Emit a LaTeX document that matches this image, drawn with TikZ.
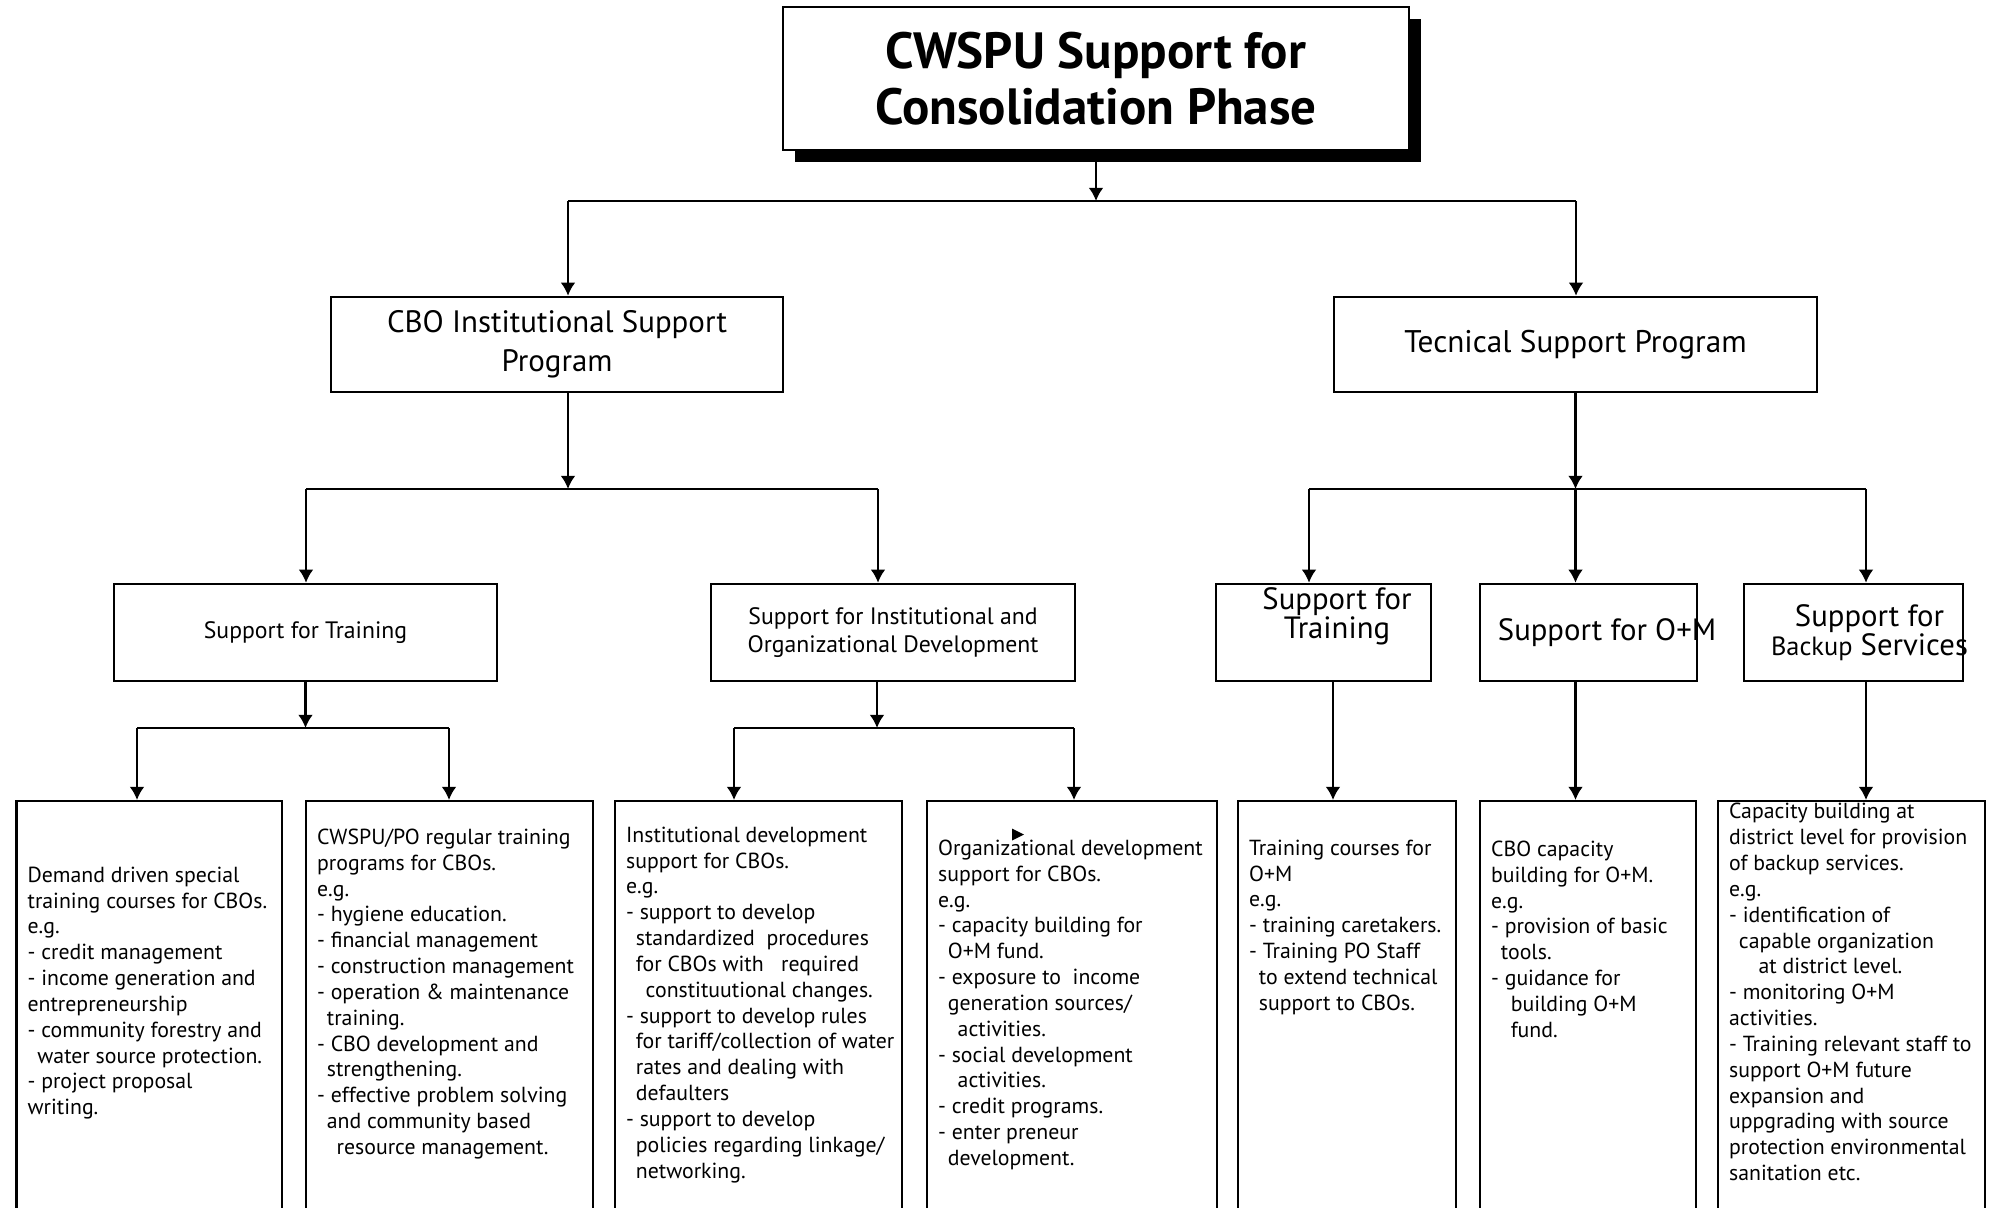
\documentclass[tikz,border=0pt]{standalone}
\usepackage{fontspec}
\setmainfont{PT Sans}
\usetikzlibrary{arrows.meta}
\usetikzlibrary{shadows}

\tikzset{
  box/.style={draw, line width=1.4pt, inner sep=0pt},
  midbox/.style={box, minimum height=1.94cm, align=center},
  leafbox/.style={box, anchor=north, minimum height=8.4cm},
  leaftext/.style={anchor=north west, inner sep=0pt, align=left, font=\fontsize{12.4}{14.7}\selectfont},
  link/.style={line width=1.4pt},
  >={Latex[length=7.5pt,width=8.5pt]}
}
\newcommand{\ind}{\hspace*{0.45em}}

\begin{document}
\begin{tikzpicture}
\useasboundingbox (0,0) rectangle (39.8,-24.16);

\node[box, fill=white, minimum width=12.52cm, minimum height=2.86cm, align=center,
  drop shadow={shadow xshift=0.24cm, shadow yshift=-0.24cm, fill=black, opacity=1},
  font=\fontsize{29}{32}\selectfont\bfseries] (title) at (21.92,-1.57) {CWSPU Support for\\Consolidation Phase};

\node[box, minimum width=9.04cm, minimum height=1.9cm, align=center, font=\fontsize{17.6}{22}\selectfont] (cbo) at (11.14,-6.89) {CBO Institutional Support\\Program};
\node[box, minimum width=9.66cm, minimum height=1.9cm, align=center, font=\fontsize{17.8}{22}\selectfont] (tech) at (31.51,-6.89) {Tecnical Support Program};

\node[midbox, minimum width=7.66cm, font=\fontsize{13.5}{16}\selectfont] (trainL) at (6.11,-12.65) {Support for Training};
\node[midbox, minimum width=7.28cm, font=\fontsize{13.5}{16}\selectfont] (instdev) at (17.86,-12.65) {Support for Institutional and\\Organizational Development};
\node[midbox, minimum width=4.3cm] (trainR) at (26.47,-12.65) {};
\node[midbox, minimum width=4.34cm] (om) at (31.77,-12.65) {};
\node[midbox, minimum width=4.38cm] (backup) at (37.07,-12.65) {};
\node[align=center, font=\fontsize{17.5}{16.5}\selectfont] (trainRt) at ([shift={(0.27,0.32)}]trainR.center) {Support for\\Training};
\node[align=center, font=\fontsize{17.5}{16.5}\selectfont] (omt) at ([xshift=0.37cm]om.center) {Support for O+M};
\node[align=center, font=\fontsize{17.5}{16.5}\selectfont] (backupt) at ([xshift=0.32cm]backup.center) {Support for\\{\fontsize{15}{16.5}\selectfont Backup} Services};

\node[leafbox, minimum width=5.31cm] (d1) at (2.985,-16) {};
\node[leafbox, minimum width=5.74cm] (d2) at (8.99,-16) {};
\node[leafbox, minimum width=5.74cm] (d3) at (15.17,-16) {};
\node[leafbox, minimum width=5.8cm] (d4) at (21.44,-16) {};
\node[leafbox, minimum width=4.36cm] (d5) at (26.94,-16) {};
\node[leafbox, minimum width=4.32cm] (d6) at (31.76,-16) {};
\node[leafbox, minimum width=5.34cm] (d7) at (37.03,-16) {};

\node[leaftext] (d1t) at ([shift={(0.24,-1.33)}]d1.north west) {Demand driven special\\
training courses for CBOs.\\
e.g.\\
- credit management\\
- income generation and\\
entrepreneurship\\
- community forestry and\\
\ind water source protection.\\
- project proposal\\
writing.};
\node[leaftext] (d2t) at ([shift={(0.24,-0.57)}]d2.north west) {CWSPU/PO regular training\\
programs for CBOs.\\
e.g.\\
- hygiene education.\\
- financial management\\
- construction management\\
- operation \& maintenance\\
\ind training.\\
- CBO development and\\
\ind strengthening.\\
- effective problem solving\\
\ind and community based\\
\ind\ind resource management.};
\node[leaftext] (d3t) at ([shift={(0.24,-0.53)}]d3.north west) {Institutional development\\
support for CBOs.\\
e.g.\\
- support to develop\\
\ind standardized\ \ procedures\\
\ind for CBOs with\ \ \ required\\
\ind\ind constituutional changes.\\
- support to develop rules\\
\ind for tariff/collection of water\\
\ind rates and dealing with\\
\ind defaulters\\
- support to develop\\
\ind policies regarding linkage/\\
\ind networking.};
\node[leaftext] (d4t) at ([shift={(0.24,-0.79)}]d4.north west) {Organizational development\\
support for CBOs.\\
e.g.\\
- capacity building for\\
\ind O+M fund.\\
- exposure to\ \ income\\
\ind generation sources/\\
\ind\ind activities.\\
- social development\\
\ind\ind activities.\\
- credit programs.\\
- enter preneur\\
\ind development.};
\node[leaftext] (d5t) at ([shift={(0.24,-0.79)}]d5.north west) {Training courses for\\
O+M\\
e.g.\\
- training caretakers.\\
- Training PO Staff\\
\ind to extend technical\\
\ind support to CBOs.};
\node[leaftext] (d6t) at ([shift={(0.24,-0.81)}]d6.north west) {CBO capacity\\
building for O+M.\\
e.g.\\
- provision of basic\\
\ind tools.\\
- guidance for\\
\ind\ind building O+M\\
\ind\ind fund.};
\node[leaftext] (d7t) at ([shift={(0.24,-0.06)}]d7.north west) {Capacity building at\\
district level for provision\\
of backup services.\\
e.g.\\
- identification of\\
\ind capable organization\\
\ind\ind\ind at district level.\\
- monitoring O+M\\
activities.\\
- Training relevant staff to\\
support O+M future\\
expansion and\\
uppgrading with source\\
protection environmental\\
sanitation etc.};
\fill (20.24,-16.57) -- (20.24,-16.81) -- (20.48,-16.69) -- cycle;

\coordinate (f0l) at (11.36,-4.02);
\coordinate (f0r) at (31.52,-4.02);
\draw[link,->] (title.south) -- (title.south |- f0l);
\draw[link] (f0l) -- (f0r);
\draw[link,->] (f0l) -- (f0l |- cbo.north);
\draw[link,->] (f0r) -- (f0r |- tech.north);

\coordinate (f1l) at (6.12,-9.78);
\coordinate (f1r) at (17.56,-9.78);
\draw[link,->] (f0l |- cbo.south) -- (f0l |- f1l);
\draw[link] (f1l) -- (f1r);
\draw[link,->] (f1l) -- (f1l |- trainL.north);
\draw[link,->] (f1r) -- (f1r |- instdev.north);

\coordinate (f2l) at (26.18,-9.78);
\coordinate (f2r) at (37.32,-9.78);
\draw[link,->] (tech.south) -- (tech.south |- f2l);
\draw[link] (f2l) -- (f2r);
\draw[link,->] (f2l) -- (f2l |- trainR.north);
\draw[link,->] (tech.south |- f2l) -- (tech.south |- om.north);
\draw[link,->] (f2r) -- (f2r |- backup.north);

\coordinate (f3l) at (2.74,-14.56);
\coordinate (f3r) at (8.98,-14.56);
\draw[link,->] (trainL.south) -- (trainL.south |- f3l);
\draw[link] (f3l) -- (f3r);
\draw[link,->] (f3l) -- (f3l |- d1.north);
\draw[link,->] (f3r) -- (f3r |- d2.north);

\coordinate (f4l) at (14.68,-14.56);
\coordinate (f4m) at (17.54,-14.56);
\coordinate (f4r) at (21.48,-14.56);
\draw[link,->] (f4m |- instdev.south) -- (f4m);
\draw[link] (f4l) -- (f4r);
\draw[link,->] (f4l) -- (f4l |- d3.north);
\draw[link,->] (f4r) -- (f4r |- d4.north);

\draw[link,->] ([xshift=0.19cm]trainR.south) -- ([xshift=0.19cm]trainR.south |- d5.north);
\draw[link,->] (tech.south |- om.south) -- (tech.south |- d6.north);
\draw[link,->] (f2r |- backup.south) -- (f2r |- d7.north);
\end{tikzpicture}
\end{document}
